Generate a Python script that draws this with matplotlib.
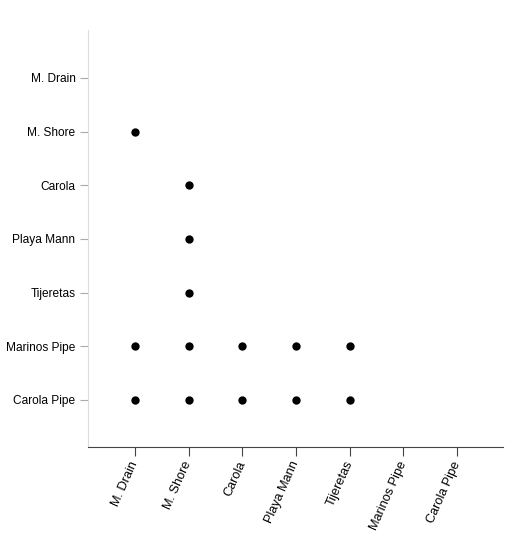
import matplotlib.pyplot as plt

sites = ["M. Drain", "M. Shore", "Carola", "Playa Mann", "Tijeretas",
         "Marinos Pipe", "Carola Pipe"]

# pairs (column site, row site) that are marked
pair_x = ["M. Drain", "M. Shore", "M. Shore", "M. Shore",
          "M. Drain", "M. Shore", "Carola", "Playa Mann", "Tijeretas",
          "M. Drain", "M. Shore", "Carola", "Playa Mann", "Tijeretas"]
pair_y = ["M. Shore", "Carola", "Playa Mann", "Tijeretas",
          "Marinos Pipe", "Marinos Pipe", "Marinos Pipe", "Marinos Pipe", "Marinos Pipe",
          "Carola Pipe", "Carola Pipe", "Carola Pipe", "Carola Pipe", "Carola Pipe"]

plt.rcParams["font.family"] = ["Liberation Sans", "DejaVu Sans"]

fig = plt.figure(figsize=(5.32, 5.37), dpi=100)
ax = fig.add_axes([0.1654, 0.1676, 0.7801, 0.7765])

n = len(sites)
xpos = {s: i for i, s in enumerate(sites)}
ypos = {s: n - 1 - i for i, s in enumerate(sites)}

ax.scatter([xpos[s] for s in pair_x], [ypos[s] for s in pair_y],
           s=36, color="black", zorder=3, linewidths=0)

ax.set_xlim(-0.876, 6.857)
ax.set_ylim(-0.876, 6.894)
ax.set_xticks(range(n))
ax.set_xticklabels(sites, rotation=66, ha="right", va="center",
                   rotation_mode="anchor", fontsize=9.2)
ax.set_yticks([ypos[s] for s in sites])
ax.set_yticklabels(sites, fontsize=8.6)

for side in ("top", "right"):
    ax.spines[side].set_visible(False)
ax.spines["left"].set_color("#dddddd")
ax.spines["bottom"].set_color("#444444")
ax.tick_params(axis="y", length=6, color="#aaaaaa", pad=3)
ax.tick_params(axis="x", length=6.5, color="#444444", pad=4)

fig.savefig("out.png", dpi=100)
